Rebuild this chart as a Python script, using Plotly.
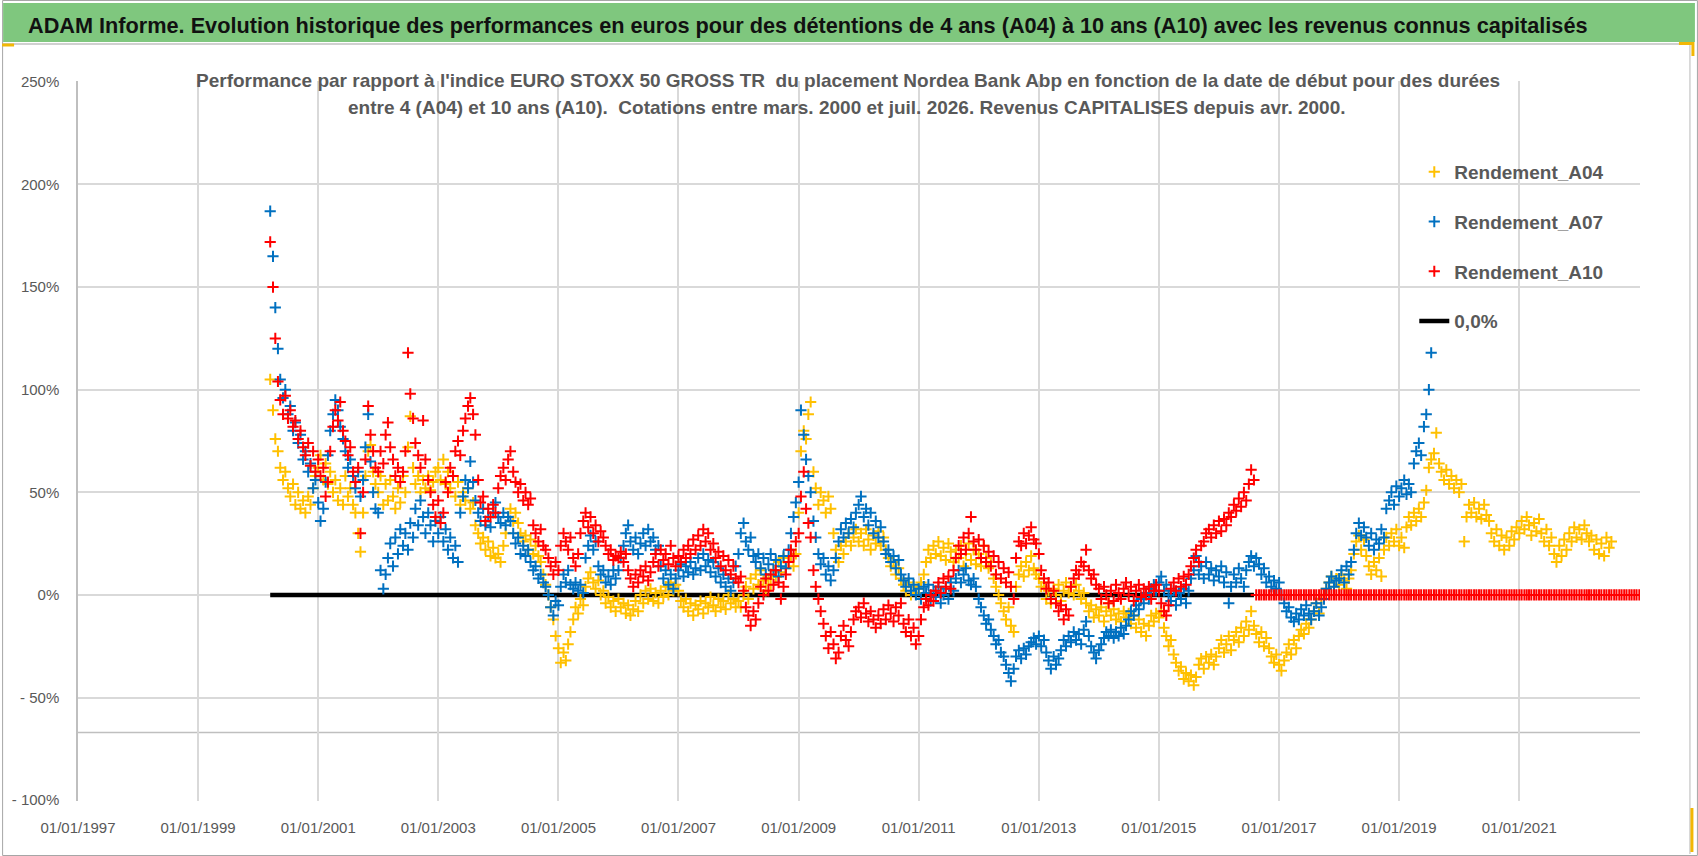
import pandas as pd
import plotly.graph_objects as go

# ---------------- page geometry (pixels) ----------------
W, H = 1698, 856
ML, MR, MT, MB = 76, 58, 81, 55
PW, PH = W - ML - MR, H - MT - MB


def px(x):
    return (x - ML) / PW


def py(y):
    return (H - MB - y) / PH


# ---------------- texts ----------------
TITLE = ("ADAM Informe. Evolution historique des performances en euros pour des détentions "
         "de 4 ans (A04) à 10 ans (A10) avec les revenus connus capitalisés")
SUBTITLE_1 = ("Performance par rapport à l'indice EURO STOXX 50 GROSS TR&nbsp; du placement Nordea Bank Abp "
              "en fonction de la date de début pour des durées")
SUBTITLE_2 = ("entre 4 (A04) et 10 ans (A10).&nbsp; Cotations entre mars. 2000 et juil. 2026. "
              "Revenus CAPITALISES depuis avr. 2000.")

SERIES_NAMES = ["Rendement_A04", "Rendement_A07", "Rendement_A10"]
LINE_NAME = "0,0%"

# ---------------- data (semi-monthly, %, first date 2000-03-15) ----------------
START_DATE = "2000-03-15"

A04 = [
    105, 90, 76, 70, 62, 56, 60, 52, 48, 54, 44, 50, 42, 46, 40, 48, 44, 52, 58,
    62, 68, 56, 64, 54, 60, 50, 56, 46, 52, 44, 58, 48, 52, 44, 40, 30, 21, 40, 58, 70, 73, 60, 54,
    50, 58, 44, 54, 46, 56, 48, 42, 52, 45, 58, 50, 72, 87, 62, 54, 58, 50, 56, 52, 58, 51, 55, 60,
    62, 56, 66, 54, 60, 52, 58, 48, 55, 44, 50, 46, 52, 42, 45, 34, 30, 25, 28, 22, 26, 19, 23, 18,
    20, 16, 24, 30, 38, 42, 36, 40, 35, 30, 26, 29, 22, 27, 20, 24, 19, 16, 10, 5, 0, -6, -12, -20,
    -26, -33, -28, -32, -24, -18, -12, -6, -9, -2, -5, 4, 8, 11, 6, 3, 7, 0, 2, -4, -1, -6, -3, -8,
    -2, -6, -4, -9, -5, -10, -7, -3, -8, 0, -4, 2, -2, 3, -3, 1, -4, 2, -1, 4, 0, 6, 2, 5,
    2, -3, -6, -2, -8, -4, -10, -5, -7, -3, -9, -4, -6, -1, -5, -8, -2, -6, -3, -7, 0, -4, -2, -6,
    -3, -6, 0, 4, -2, 8, 3, 10, 5, 12, 7, 2, 8, 5, 12, 9, 16, 11, 18, 13, 16, 19, 14, 20,
    40, 70, 80, 76, 88, 94, 60, 52, 44, 50, 46, 40, 48, 42, 30, 22, 16, 24, 20, 26, 30, 24, 28, 32,
    26, 30, 24, 32, 27, 22, 29, 25, 31, 24, 28, 22, 18, 14, 16, 10, 13, 8, 5, 2, 6, 0, 4, 1,
    3, 6, 10, 16, 22, 18, 24, 20, 26, 19, 23, 17, 25, 21, 16, 22, 18, 24, 14, 20, 25, 17, 22, 15,
    20, 14, 24, 18, 13, 16, 8, 4, 0, -4, -8, -12, -6, -15, -18, 4, 10, 14, 9, 16, 12, 19, 13, 10,
    8, 4, 6, -2, 2, -4, 3, 0, 5, -3, 2, 6, 1, 4, 0, 5, 2, -2, 1, -4, -8, -5, -11, -7,
    -10, -6, -13, -8, -4, -10, -7, -12, -9, -13, -8, -11, -9, -14, -10, -16, -12, -18, -14, -20, -15, -10, -13, -9,
    -11, -8, -16, -20, -25, -22, -29, -33, -37, -35, -41, -38, -42, -39, -44, -40, -34, -31, -36, -30, -33, -29, -34, -30,
    -26, -22, -28, -24, -20, -27, -22, -18, -23, -16, -20, -13, -17, -8, -15, -19, -23, -18, -25, -21, -26, -30, -33, -29,
    -34, -37, -32, -28, -24, -29, -22, -26, -20, -17, -19, -14, -16, -12, -8, -4, -9, -2, 0, 3, 6, 9, 4, 8,
    5, 10, 7, 3, 8, 12, 20, 26, 29, 22, 27, 19, 14, 10, 16, 12, 18, 9, 22, 28, 24, 30, 26, 32,
    24, 28, 23, 33, 38, 34, 40, 36, 42, 38, 45, 51, 62, 66, 69, 79, 64, 60, 56, 61, 54, 58, 52, 56,
    50, 54, 26, 38, 44, 40, 45, 38, 42, 37, 44, 39, 36, 30, 26, 32, 24, 29, 22, 28, 24, 31, 27, 33,
    30, 36, 32, 38, 34, 29, 35, 31, 37, 30, 26, 32, 24, 28, 20, 16, 24, 19, 27, 22, 30, 26, 33, 28,
    32, 27, 34, 30, 26, 29, 22, 27, 20, 25, 19, 28, 23, 26,
]

A07 = [
    187, 165, 140, 120, 105, 96, 100, 88, 92, 80, 84, 74, 78, 66, 70, 60, 64, 52, 56,
    45, 36, 42, 55, 68, 80, 88, 95, 90, 82, 76, 70, 62, 66, 58, 52, 60, 48, 56, 72, 88, 65, 50, 42,
    40, 12, 3, 10, 18, 25, 14, 28, 20, 32, 24, 30, 22, 35, 28, 42, 34, 46, 38, 30, 40, 34, 26, 36,
    30, 38, 26, 32, 22, 28, 18, 24, 16, 40, 48, 56, 52, 65, 55, 46, 40, 36, 42, 34, 38, 33, 40, 45,
    38, 35, 40, 34, 38, 36, 30, 25, 28, 20, 24, 19, 22, 16, 12, 14, 8, 10, 6, 4, 0, -6, -10, -3,
    -5, 4, 10, 6, 12, 5, 3, 6, 2, 5, 1, 18, 24, 29, 22, 26, 14, 10, 12, 6, 9, 5, 12, 8,
    12, 18, 24, 30, 34, 26, 22, 28, 20, 25, 30, 24, 32, 26, 28, 22, 24, 14, 8, 12, 5, 10, 3, 8,
    12, 15, 9, 14, 11, 16, 10, 13, 18, 12, 20, 14, 17, 11, 16, 9, 13, 6, 10, 4, 8, 2, 6, 14,
    20, 30, 35, 26, 22, 28, 19, 16, 20, 13, 18, 10, 15, 20, 12, 17, 9, 14, 19, 13, 22, 30, 38, 45,
    55, 90, 78, 66, 58, 50, 36, 28, 20, 15, 18, 10, 14, 7, 12, 18, 26, 32, 28, 35, 30, 37, 33, 40,
    44, 48, 38, 42, 34, 40, 30, 36, 28, 33, 26, 20, 22, 16, 19, 13, 17, 10, 7, 4, 8, 2, 5, 0,
    3, -2, 4, 1, 5, -3, 2, -1, 4, -4, 0, 3, -2, 6, 2, 8, 12, 6, 10, 13, 7, 5, 8, 4,
    -2, -6, -10, -14, -12, -17, -20, -24, -22, -28, -30, -34, -38, -42, -36, -30, -27, -31, -26, -29, -25, -23, -21, -24,
    -20, -25, -22, -28, -32, -36, -30, -34, -31, -27, -22, -25, -20, -23, -18, -22, -19, -24, -17, -13, -20, -25, -28, -31,
    -27, -24, -21, -18, -20, -17, -21, -18, -20, -16, -19, -15, -12, -8, -10, -5, -7, -2, -4, 1, -2, 3, 5, 2,
    6, 9, 2, 5, 0, -3, 2, -5, 1, -2, 3, -4, 2, 8, 12, 19, 10, 14, 8, 16, 10, 13, 7, 12,
    9, 14, 6, 11, -4, 4, 10, 6, 13, 8, 4, 12, 16, 19, 14, 18, 15, 10, 13, 6, 9, 4, 7, 3,
    6, 0, -4, -8, -6, -11, -13, -9, -12, -7, -10, -5, -9, -12, -8, -4, -10, -6, -2, 3, 6, 9, 4, 7,
    8, 12, 6, 14, 10, 16, 22, 30, 35, 29, 33, 28, 24, 30, 22, 27, 25, 32, 28, 42, 46, 50, 44, 53,
    48, 52, 56, 49, 54, 50, 64, 70, 74, 68, 82, 88, 100, 118,
]

A10 = [
    172, 150, 125, 104, 95, 88, 97, 86, 90, 82, 85, 76, 80, 72, 68, 74, 63, 70, 60,
    66, 58, 62, 48, 55, 70, 82, 90, 85, 94, 80, 75, 68, 72, 60, 55, 62, 30, 50, 66, 92, 78, 70, 62,
    60, 70, 64, 78, 84, 72, 66, 58, 62, 55, 60, 70, 118, 98, 86, 74, 68, 62, 85, 66, 56, 50, 44, 38,
    46, 35, 40, 55, 50, 62, 58, 70, 75, 68, 80, 86, 92, 96, 88, 78, 56, 45, 48, 36, 42, 38, 44, 40,
    52, 58, 62, 56, 66, 70, 60, 55, 50, 54, 46, 50, 44, 47, 34, 30, 26, 32, 24, 22, 18, 14, 10, 16,
    12, 24, 30, 26, 22, 28, 18, 14, 20, 30, 36, 40, 33, 38, 30, 34, 26, 31, 28, 24, 20, 22, 17, 19,
    18, 21, 16, 20, 12, 8, 4, 10, 6, 12, 9, 14, 7, 11, 16, 20, 14, 22, 17, 20, 15, 24, 18, 14,
    19, 16, 22, 18, 24, 20, 27, 22, 29, 24, 32, 26, 30, 22, 25, 18, 21, 14, 19, 12, 17, 10, 14, 8,
    6, 9, 2, -6, -10, -15, -8, -12, -4, 4, 0, 8, 2, 10, 5, 12, 6, -2, 4, 10, 16, 22, 19, 26,
    30, 48, 60, 42, 35, 28, 12, 4, -2, -8, -14, -20, -26, -18, -24, -31, -28, -20, -15, -22, -25, -18, -12, -8,
    -6, -11, -4, -9, -13, -8, -12, -16, -10, -14, -7, -12, -5, -9, -13, -6, -10, -4, -14, -18, -12, -20, -16, -24,
    -20, -12, -6, -2, -5, 0, -3, 2, 6, 1, 8, 4, 9, 3, 12, 18, 24, 20, 28, 22, 30, 38, 26, 22,
    27, 18, 24, 16, 21, 14, 19, 10, 16, 8, 13, 6, 11, 4, -2, 18, 26, 24, 30, 25, 29, 33, 27, 25,
    20, 12, 8, 3, 6, -2, 2, -4, -8, -5, -12, -7, -10, 4, 8, 12, 10, 16, 14, 22, 12, 8, 10, 5,
    3, -2, 4, 0, -4, 2, -3, 5, 1, -2, 3, 6, 0, 4, -3, 2, 5, -1, 3, 0, 4, -2, 2, 5,
    2, -4, -8, -10, -5, 3, 6, 2, 8, 4, 9, 5, 10, 14, 18, 22, 16, 24, 26, 30, 32, 28, 34, 30,
    36, 31, 37, 34, 40, 38, 44, 41, 47, 43, 50, 46, 54, 61, 56,
    # no 10-year result available after mid-2016: values reported as 0
    0, 0, 0, 0, 0, 0, 0, 0, 0,
    0, 0, 0, 0, 0, 0, 0, 0, 0, 0, 0, 0, 0, 0, 0, 0, 0, 0, 0, 0, 0, 0, 0, 0,
    0, 0, 0, 0, 0, 0, 0, 0, 0, 0, 0, 0, 0, 0, 0, 0, 0, 0, 0, 0, 0, 0, 0, 0,
    0, 0, 0, 0, 0, 0, 0, 0, 0, 0, 0, 0, 0, 0, 0, 0, 0, 0, 0, 0, 0, 0, 0, 0,
    0, 0, 0, 0, 0, 0, 0, 0, 0, 0, 0, 0, 0, 0, 0, 0, 0, 0, 0, 0, 0, 0, 0, 0,
    0, 0, 0, 0, 0, 0, 0, 0, 0, 0, 0, 0, 0, 0, 0, 0, 0, 0, 0, 0, 0, 0, 0, 0,
    0, 0, 0, 0, 0, 0, 0, 0, 0, 0, 0, 0, 0, 0, 0, 0, 0, 0, 0, 0, 0, 0, 0, 0,
    0,
]

LINE_DATES = ["2000-03-15", "2016-08-01"]
LINE_VALUES = [0, 0]

X_TICK_DATES = ["1997-01-01", "1999-01-01", "2001-01-01", "2003-01-01", "2005-01-01",
                "2007-01-01", "2009-01-01", "2011-01-01", "2013-01-01", "2015-01-01",
                "2017-01-01", "2019-01-01", "2021-01-01"]
X_TICK_TEXT = ["01/01/1997", "01/01/1999", "01/01/2001", "01/01/2003", "01/01/2005",
               "01/01/2007", "01/01/2009", "01/01/2011", "01/01/2013", "01/01/2015",
               "01/01/2017", "01/01/2019", "01/01/2021"]
Y_TICK_VALUES = [-100, -50, 0, 50, 100, 150, 200, 250]
Y_TICK_TEXT = ["- 100%", "- 50%", "0%", "50%", "100%", "150%", "200%", "250%"]
X_RANGE = ["1997-01-01", "2023-01-05"]
Y_RANGE = [-100.4, 250.4]
AXIS_CROSS = -67

COLORS = ["#FFC000", "#0070C0", "#FF0000"]
GRAY_TEXT = "#595959"
GRID = "#D9D9D9"
FONT = "Liberation Sans, Arial, sans-serif"

# ---------------- figure ----------------
fig = go.Figure()

fig.add_trace(go.Scatter(
    x=pd.to_datetime(LINE_DATES), y=LINE_VALUES, mode="lines",
    line=dict(color="#000000", width=4.5), name=LINE_NAME,
    legendgroup="g4", legendrank=4, hoverinfo="skip",
))

for i, (name, vals) in enumerate(zip(SERIES_NAMES, [A04, A07, A10])):
    dates = pd.date_range(START_DATE, periods=len(vals), freq="SMS")
    fig.add_trace(go.Scatter(
        x=dates, y=vals, mode="markers", name=name,
        marker=dict(symbol="cross-thin", size=8, color=COLORS[i],
                    line=dict(color=COLORS[i], width=2)),
        legendgroup="g%d" % (i + 1), legendrank=i + 1, hoverinfo="skip",
    ))

ORANGE = "#F2B705"
shapes = [
    # outer frame
    dict(type="rect", xref="paper", yref="paper", x0=px(0.5), x1=px(1697.5), y0=py(855.5), y1=py(0.5),
         line=dict(color="#A6A6A6", width=1), fillcolor="rgba(0,0,0,0)", layer="below"),
    # green title band
    dict(type="rect", xref="paper", yref="paper", x0=px(1), x1=px(1695), y0=py(42), y1=py(3),
         line=dict(width=0), fillcolor="#7FC77E", layer="below"),
    # thin grey rule under band
    dict(type="line", xref="paper", yref="paper", x0=px(1), x1=px(1690), y0=py(44), y1=py(44),
         line=dict(color="#D0D0D0", width=2), layer="below"),
    # chart area right border
    dict(type="line", xref="paper", yref="paper", x0=px(1690), x1=px(1690), y0=py(45), y1=py(854),
         line=dict(color="#D0D0D0", width=1.5), layer="below"),
    # subtitle background
    dict(type="rect", xref="paper", yref="paper", x0=px(192), x1=px(1502), y0=py(124), y1=py(66),
         line=dict(width=0), fillcolor="#FFFFFF", layer="between"),
    # legend background
    dict(type="rect", xref="paper", yref="paper", x0=px(1383), x1=px(1641), y0=py(347), y1=py(147),
         line=dict(width=0), fillcolor="#FFFFFF", layer="between"),
    # horizontal axis line (crossing)
    dict(type="line", xref="paper", yref="y", x0=0, x1=1, y0=AXIS_CROSS, y1=AXIS_CROSS,
         line=dict(color="#BFBFBF", width=1.5), layer="between"),
    # selection handles (orange)
    dict(type="line", xref="paper", yref="paper", x0=px(0), x1=px(12), y0=py(45), y1=py(45),
         line=dict(color=ORANGE, width=3), layer="above"),
    dict(type="line", xref="paper", yref="paper", x0=px(1679), x1=px(1694), y0=py(43.5), y1=py(43.5),
         line=dict(color=ORANGE, width=3), layer="above"),
    dict(type="line", xref="paper", yref="paper", x0=px(1693), x1=px(1693), y0=py(42), y1=py(56),
         line=dict(color=ORANGE, width=3), layer="above"),
    dict(type="line", xref="paper", yref="paper", x0=px(1692), x1=px(1692), y0=py(808), y1=py(852),
         line=dict(color=ORANGE, width=3), layer="above"),
]

annotations = [
    dict(text="<b>" + TITLE + "</b>", xref="paper", yref="paper", x=px(24), y=py(25),
         xanchor="left", yanchor="middle", showarrow=False,
         font=dict(family=FONT, size=21.7, color="#111111")),
    dict(text="<b>" + SUBTITLE_1 + "</b>", xref="paper", yref="paper",
         x=px(847), y=py(80), xanchor="center", yanchor="middle", showarrow=False,
         font=dict(family=FONT, size=19, color=GRAY_TEXT)),
    dict(text="<b>" + SUBTITLE_2 + "</b>", xref="paper", yref="paper",
         x=px(846), y=py(108), xanchor="center", yanchor="middle", showarrow=False,
         font=dict(family=FONT, size=19, color=GRAY_TEXT)),
]

fig.update_layout(
    width=W, height=H,
    margin=dict(l=ML, r=MR, t=MT, b=MB),
    paper_bgcolor="#FFFFFF", plot_bgcolor="#FFFFFF",
    hovermode=False,
    shapes=shapes, annotations=annotations,
    showlegend=True,
    legend=dict(
        x=px(1414), y=py(153), xanchor="left", yanchor="top",
        xref="paper", yref="paper",
        bgcolor="rgba(0,0,0,0)", borderwidth=0,
        traceorder="grouped", tracegroupgap=22,
        font=dict(family=FONT, size=19, color=GRAY_TEXT, weight="bold"),
    ),
    xaxis=dict(
        type="date", range=X_RANGE, tickvals=X_TICK_DATES, ticktext=X_TICK_TEXT,
        showgrid=True, gridcolor=GRID, gridwidth=1.5, zeroline=False, showline=False,
        ticks="", ticklabelstandoff=16,
        tickfont=dict(family=FONT, size=15, color=GRAY_TEXT),
    ),
    yaxis=dict(
        range=Y_RANGE, tickvals=Y_TICK_VALUES, ticktext=Y_TICK_TEXT,
        showgrid=True, gridcolor=GRID, gridwidth=1.5, zeroline=False,
        showline=True, linecolor="#BFBFBF", linewidth=1.5,
        ticks="", ticklabelstandoff=14,
        tickfont=dict(family=FONT, size=15, color=GRAY_TEXT),
    ),
)

# the page has a default 8px body margin; remove it so the figure fills the window exactly
fig.write_html("out.html", config={"displayModeBar": False},
               post_script="document.body.style.margin='0px';")
